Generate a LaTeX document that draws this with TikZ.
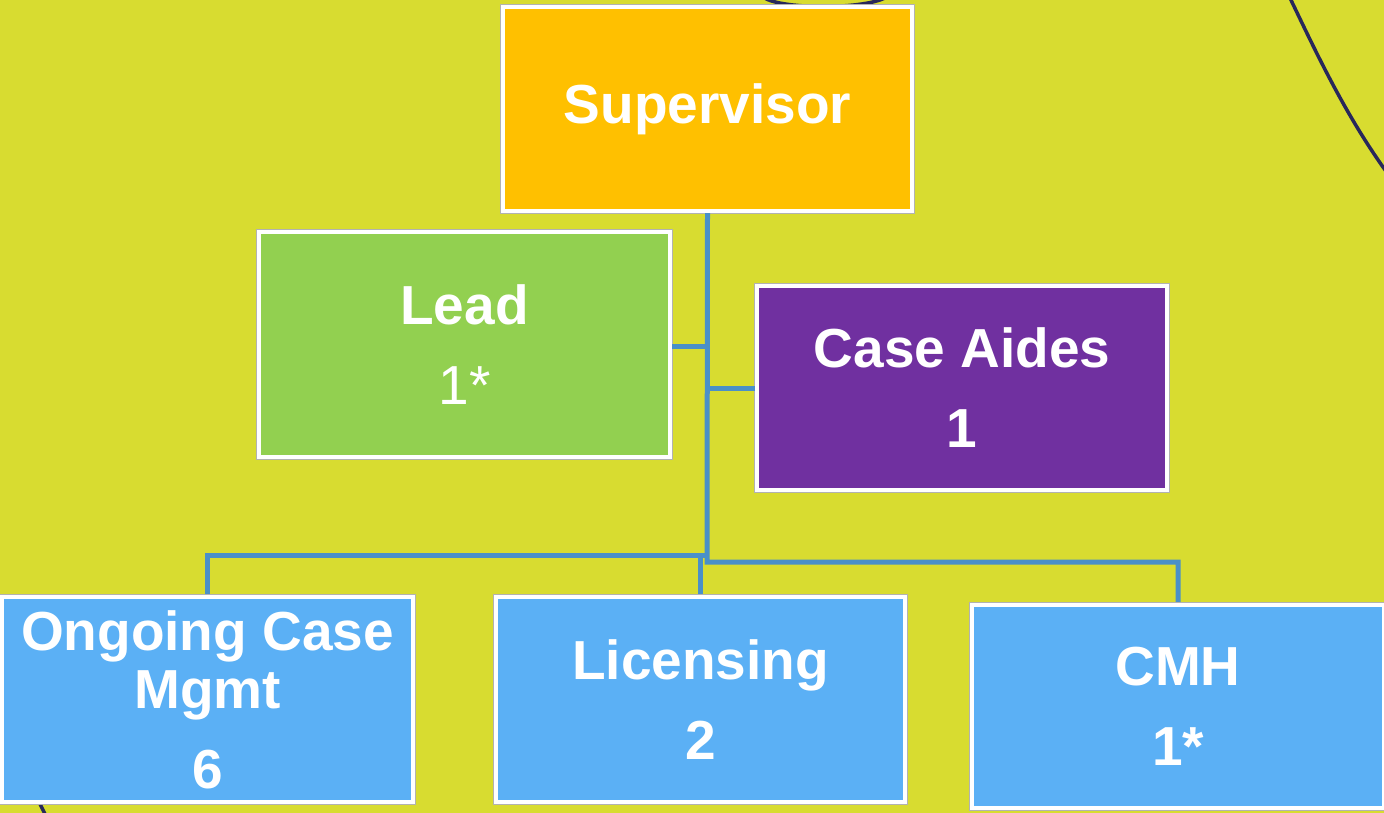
\documentclass[tikz,border=0pt]{standalone}
\usepackage{fontspec}
\setmainfont{Liberation Sans}
\definecolor{bgc}{RGB}{216,220,48}
\definecolor{linec}{RGB}{74,144,200}
\definecolor{curvec}{RGB}{40,40,90}
\definecolor{supc}{RGB}{255,192,0}
\definecolor{leadc}{RGB}{146,208,80}
\definecolor{aidec}{RGB}{112,48,160}
\definecolor{bluec}{RGB}{91,176,245}
\begin{document}
\begin{tikzpicture}[x=1pt,y=1pt,
  orgbox/.style={draw=white,line width=4pt,text=white,align=center,
    inner sep=0pt,font=\fontsize{55}{58}\selectfont\bfseries,
    preaction={draw=black!30,line width=6pt}},
  conn/.style={draw=linec,line width=5pt},
  deco/.style={draw=curvec,line width=3.5pt}]
\useasboundingbox (0,0) rectangle (1384,-812);
\fill[bgc] (-10,10) rectangle (1394,-822);
% decorative curves
\draw[deco] (762,4) .. controls (775,-10) and (870,-10) .. (888,4);
\draw[deco] (1290,2) .. controls (1315,-50) and (1345,-115) .. (1388,-174);
\draw[deco] (36,-796) -- (46,-816);
% boxes and connectors
\node[orgbox,fill=supc,minimum width=409pt,minimum height=204pt] (sup) at (707.5,-109) {Supervisor};
\node[orgbox,fill=leadc,minimum width=411pt,minimum height=225pt] (lead) at (464.5,-344.5) {Lead\\[22pt]{\mdseries 1*}};
\node[orgbox,fill=aidec,minimum width=410pt,minimum height=204pt] (aides) at (962,-388) {Case Aides\\[22pt]1};
\coordinate (jR) at (707,-562);
\coordinate (jL) at (707,-555);
\draw[conn] (sup.south) -- (jR) -| (1178,-604);
\draw[conn] (jL) -| (207.5,-596);
\draw[conn] (700,-555) -- (700,-596);
\draw[conn] (lead.east |- 0,-346) -- (707,-346);
\draw[conn] (aides.west) -- (707,-388);
\node[orgbox,fill=bluec,minimum width=411pt,minimum height=205pt] (ongo) at (207.5,-699.5) {Ongoing Case\\Mgmt\\[22pt]6};
\node[orgbox,fill=bluec,minimum width=409pt,minimum height=205pt] (lic) at (700.5,-699.5) {Licensing\\[22pt]2};
\node[orgbox,fill=bluec,minimum width=412pt,minimum height=203pt] (cmh) at (1178,-706.5) {CMH\\[22pt]1*};
\end{tikzpicture}
\end{document}
